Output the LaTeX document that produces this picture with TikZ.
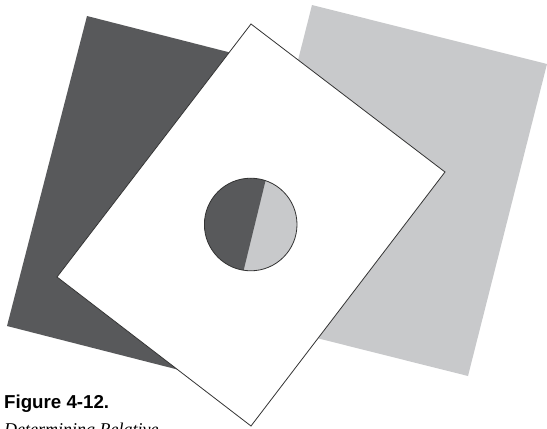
\documentclass[tikz,border=0pt]{standalone}
\usepackage{fontspec}
\newfontfamily\figsans{Liberation Sans}
\newfontfamily\figserif{Liberation Serif}
\definecolor{darkfill}{HTML}{58595B}
\definecolor{lightfill}{HTML}{C8C9CB}
\definecolor{edgeline}{HTML}{333333}
\begin{document}
\begin{tikzpicture}[x=1pt,y=-1pt,
  darksheet/.style={fill=darkfill,draw=none},
  lightsheet/.style={fill=lightfill,draw=none},
  whitesheet/.style={fill=white,draw=edgeline,line width=0.8pt,line join=miter},
  rim/.style={draw=edgeline,line width=0.8pt},
  captionbold/.style={anchor=base west,inner sep=0pt,font=\figsans\bfseries\fontsize{18.7}{22}\selectfont},
  captionital/.style={anchor=base west,inner sep=0pt,font=\figserif\itshape\fontsize{18}{22}\selectfont}]
  \path[use as bounding box] (0,0) rectangle (547,429);
  \begin{scope}
  \clip (0,0) rectangle (547,429);
  % dark sheet (back left)
  \coordinate (dTL) at (87,16);
  \coordinate (dTR) at (309.9,72.9);
  \coordinate (dBR) at (229.9,382.9);
  \coordinate (dBL) at (7,326);
  \path[darksheet] (dTL) -- (dTR) -- (dBR) -- (dBL) -- cycle;
  % light sheet (back right)
  \coordinate (lTL) at (312,5);
  \coordinate (lTR) at (547,64);
  \coordinate (lBR) at (468,376);
  \coordinate (lBL) at (233,317);
  \path[lightsheet] (lTL) -- (lTR) -- (lBR) -- (lBL) -- cycle;
  % white sheet (front)
  \coordinate (wT) at (251,24);
  \coordinate (wR) at (445,172);
  \coordinate (wB) at (251,426);
  \coordinate (wL) at (57,277);
  \path[whitesheet] (wT) -- (wR) -- (wB) -- (wL) -- cycle;
  % hole
  \coordinate (hc) at (250.7,224.5);
  \begin{scope}
    \clip (hc) circle[radius=46.3];
    \fill[lightfill] (hc) circle[radius=47];
    \fill[darkfill] (272.8,150.9) -- (236.6,299.1) -- (150,299) -- (150,150) -- cycle;
  \end{scope}
  \draw[rim] (hc) circle[radius=46.3];
  % caption
  \node[captionbold] (cap1) at (4,408.7) {Figure 4-12.};
  \node[captionital] (cap2) at (4,435) {Determining Relative};
  \end{scope}
\end{tikzpicture}
\end{document}
